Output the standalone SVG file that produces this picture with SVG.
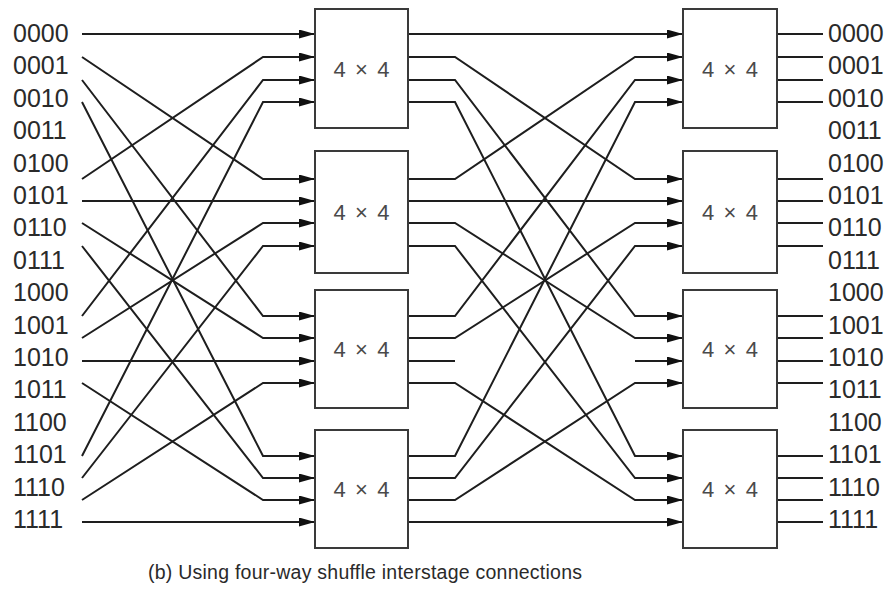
<svg xmlns="http://www.w3.org/2000/svg" width="893" height="598" viewBox="0 0 893 598">
  <style>
    .lbl { font-family: "Liberation Sans", Arial, sans-serif; font-size: 25px; fill: #2a2a2a; }
    .sw rect { fill: #ffffff; stroke: #3a3a3a; stroke-width: 2; }
    .sw text { font-family: "Liberation Sans", Arial, sans-serif; font-size: 22px; fill: #4a4a4a; text-anchor: middle; }
    .wire { fill: none; stroke: #1e1e1e; stroke-width: 2; }
    .arr { marker-end: url(#head); }
    .cap { font-family: "Liberation Sans", Arial, sans-serif; font-size: 19.5px; fill: #2a2a2a; }
  </style>
  <defs>
    <marker id="head" markerUnits="userSpaceOnUse" viewBox="0 0 16 9" markerWidth="16" markerHeight="9" refX="16" refY="4.5" orient="auto">
      <path d="M0,0 L16,4.5 L0,9 Z" fill="#111"/>
    </marker>
  </defs>
  <rect width="893" height="598" fill="#ffffff"/>

  <!-- input labels -->
  <g id="inputs" class="lbl">
    <text x="13" y="42">0000</text>
    <text x="13" y="74">0001</text>
    <text x="13" y="107">0010</text>
    <text x="13" y="139">0011</text>
    <text x="13" y="172">0100</text>
    <text x="13" y="204">0101</text>
    <text x="13" y="236">0110</text>
    <text x="13" y="269">0111</text>
    <text x="13" y="301">1000</text>
    <text x="13" y="334">1001</text>
    <text x="13" y="366">1010</text>
    <text x="13" y="398">1011</text>
    <text x="13" y="431">1100</text>
    <text x="13" y="463">1101</text>
    <text x="13" y="496">1110</text>
    <text x="13" y="528">1111</text>
  </g>

  <!-- output labels -->
  <g id="outputs" class="lbl">
    <text x="828" y="42">0000</text>
    <text x="828" y="74">0001</text>
    <text x="828" y="107">0010</text>
    <text x="828" y="139">0011</text>
    <text x="828" y="172">0100</text>
    <text x="828" y="204">0101</text>
    <text x="828" y="236">0110</text>
    <text x="828" y="269">0111</text>
    <text x="828" y="301">1000</text>
    <text x="828" y="334">1001</text>
    <text x="828" y="366">1010</text>
    <text x="828" y="398">1011</text>
    <text x="828" y="431">1100</text>
    <text x="828" y="463">1101</text>
    <text x="828" y="496">1110</text>
    <text x="828" y="528">1111</text>
  </g>

  <!-- connectors -->
  <g id="connectors" class="wire">
    <!-- first four-way shuffle: input 4a+b -> switch b, port a -->
    <path class="arr" d="M82,34 L263,34 L315,34"/>
    <path class="arr" d="M82,57 L263,179 L315,179"/>
    <path class="arr" d="M82,80 L263,316 L315,316"/>
    <path class="arr" d="M82,102 L263,456 L315,456"/>
    <path class="arr" d="M82,179 L263,57 L315,57"/>
    <path class="arr" d="M82,201 L263,201 L315,201"/>
    <path class="arr" d="M82,223 L263,338 L315,338"/>
    <path class="arr" d="M82,246 L263,478 L315,478"/>
    <path class="arr" d="M82,316 L263,80 L315,80"/>
    <path class="arr" d="M82,338 L263,223 L315,223"/>
    <path class="arr" d="M82,361 L263,361 L315,361"/>
    <path class="arr" d="M82,383 L263,500 L315,500"/>
    <path class="arr" d="M82,456 L263,102 L315,102"/>
    <path class="arr" d="M82,478 L263,246 L315,246"/>
    <path class="arr" d="M82,500 L263,383 L315,383"/>
    <path class="arr" d="M82,522 L263,522 L315,522"/>

    <!-- second four-way shuffle between the switch stages -->
    <path class="arr" d="M408,34 L455,34 L635,34 L683,34"/>
    <path class="arr" d="M408,57 L455,57 L635,179 L683,179"/>
    <path class="arr" d="M408,80 L455,80 L635,316 L683,316"/>
    <path class="arr" d="M408,102 L455,102 L635,456 L683,456"/>
    <path class="arr" d="M408,179 L455,179 L635,57 L683,57"/>
    <path class="arr" d="M408,201 L455,201 L635,201 L683,201"/>
    <path class="arr" d="M408,223 L455,223 L635,338 L683,338"/>
    <path class="arr" d="M408,246 L455,246 L635,478 L683,478"/>
    <path class="arr" d="M408,316 L455,316 L635,80 L683,80"/>
    <path class="arr" d="M408,338 L455,338 L635,223 L683,223"/>
    <path d="M408,361 L455,361"/>
    <path class="arr" d="M635,361 L683,361"/>
    <path class="arr" d="M408,383 L455,383 L635,500 L683,500"/>
    <path class="arr" d="M408,456 L455,456 L635,102 L683,102"/>
    <path class="arr" d="M408,478 L455,478 L635,246 L683,246"/>
    <path class="arr" d="M408,500 L455,500 L635,383 L683,383"/>
    <path class="arr" d="M408,522 L455,522 L635,522 L683,522"/>

    <!-- output stubs -->
    <path d="M777,34 H823 M777,57 H823 M777,80 H823 M777,102 H823 M777,179 H823 M777,201 H823 M777,223 H823 M777,246 H823 M777,316 H823 M777,338 H823 M777,361 H823 M777,383 H823 M777,456 H823 M777,478 H823 M777,500 H823 M777,522 H823"/>
  </g>

  <!-- first stage switches -->
  <g id="s1-0" class="sw"><rect x="315" y="9" width="93" height="119"/><text x="361.5" y="77" textLength="56">4 × 4</text></g>
  <g id="s1-1" class="sw"><rect x="315" y="151" width="93" height="122"/><text x="361.5" y="220" textLength="56">4 × 4</text></g>
  <g id="s1-2" class="sw"><rect x="315" y="290" width="93" height="118"/><text x="361.5" y="357" textLength="56">4 × 4</text></g>
  <g id="s1-3" class="sw"><rect x="315" y="430" width="93" height="118"/><text x="361.5" y="497" textLength="56">4 × 4</text></g>

  <!-- second stage switches -->
  <g id="s2-0" class="sw"><rect x="683" y="9" width="94" height="119"/><text x="730" y="77" textLength="56">4 × 4</text></g>
  <g id="s2-1" class="sw"><rect x="683" y="151" width="94" height="122"/><text x="730" y="220" textLength="56">4 × 4</text></g>
  <g id="s2-2" class="sw"><rect x="683" y="290" width="94" height="118"/><text x="730" y="357" textLength="56">4 × 4</text></g>
  <g id="s2-3" class="sw"><rect x="683" y="430" width="94" height="118"/><text x="730" y="497" textLength="56">4 × 4</text></g>

  <text class="cap" x="148" y="579" textLength="434">(b) Using four-way shuffle interstage connections</text>
</svg>
